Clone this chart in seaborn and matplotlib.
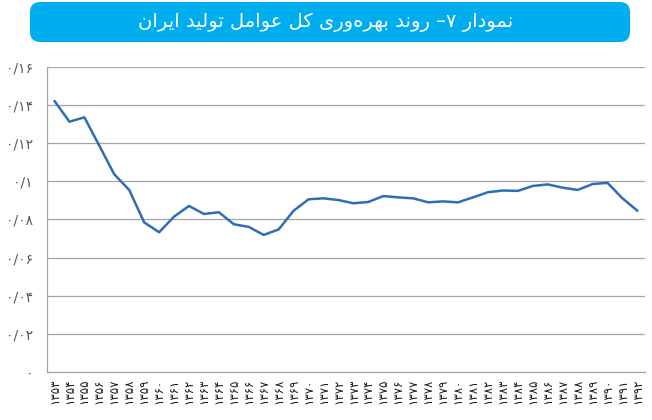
import numpy as np
import pandas as pd
import matplotlib
matplotlib.use("Agg")
import matplotlib.pyplot as plt
from matplotlib.patches import FancyBboxPatch
import seaborn as sns

# data
years = list(range(1353, 1393))
tfp = [0.1422, 0.1313, 0.1336, 0.1187, 0.1037, 0.0955, 0.0785, 0.0733, 0.0815, 0.0871,
       0.0829, 0.0838, 0.0775, 0.0761, 0.0719, 0.0748, 0.0846, 0.0906, 0.0911, 0.0902,
       0.0885, 0.0892, 0.0923, 0.0916, 0.0911, 0.0890, 0.0895, 0.0890, 0.0916, 0.0943,
       0.0952, 0.0950, 0.0976, 0.0984, 0.0967, 0.0955, 0.0986, 0.0992, 0.0911, 0.0846]
y_ticks = [0, 0.02, 0.04, 0.06, 0.08, 0.10, 0.12, 0.14, 0.16]
title = "نمودار ۷– روند بهره\u200cوری کل عوامل تولید ایران"

FA_DIGITS = str.maketrans("0123456789.", "۰۱۲۳۴۵۶۷۸۹/")

# (isolated, final, initial, medial)
FORMS = {
    "ا": ("\uFE8D", "\uFE8E", None, None),
    "د": ("\uFEA9", "\uFEAA", None, None),
    "ر": ("\uFEAD", "\uFEAE", None, None),
    "و": ("\uFEED", "\uFEEE", None, None),
    "ب": ("\uFE8F", "\uFE90", "\uFE91", "\uFE92"),
    "ت": ("\uFE95", "\uFE96", "\uFE97", "\uFE98"),
    "ع": ("\uFEC9", "\uFECA", "\uFECB", "\uFECC"),
    "ل": ("\uFEDD", "\uFEDE", "\uFEDF", "\uFEE0"),
    "م": ("\uFEE1", "\uFEE2", "\uFEE3", "\uFEE4"),
    "ن": ("\uFEE5", "\uFEE6", "\uFEE7", "\uFEE8"),
    "ه": ("\uFEE9", "\uFEEA", "\uFEEB", "\uFEEC"),
    "ی": ("\uFBFC", "\uFBFD", "\uFBFE", "\uFBFF"),
    "ک": ("\uFB8E", "\uFB8F", "\uFB90", "\uFB91"),
}


def shape_rtl(text):
    # crude arabic shaping + reversal, matplotlib has no bidi support
    out = []
    for i, c in enumerate(text):
        if c not in FORMS:
            if c != "\u200c":
                out.append(c)
            continue
        prev = text[i - 1] if i > 0 else None
        nxt = text[i + 1] if i + 1 < len(text) else None
        iso, fin, ini, med = FORMS[c]
        jp = prev in FORMS and FORMS[prev][2] is not None
        jn = nxt in FORMS and ini is not None
        if jp and jn:
            out.append(med)
        elif jp:
            out.append(fin)
        elif jn:
            out.append(ini)
        else:
            out.append(iso)
    return "".join(reversed(out))


def fa(v):
    return f"{v:g}".translate(FA_DIGITS)


sns.set_style("white")
plt.rcParams["font.family"] = ["DejaVu Sans"]

df = pd.DataFrame({"pos": np.arange(len(years)), "tfp": tfp})

fig = plt.figure(figsize=(6.52, 4.20), dpi=100)
ax = fig.add_axes([0.0721, 0.1143, 0.917, 0.7262])

sns.lineplot(data=df, x="pos", y="tfp", ax=ax, color="#2F6DB5", linewidth=1.8)

ax.set_xlim(-0.5, len(years) - 0.5)
ax.set_ylim(0, 0.16)
ax.set_yticks(y_ticks)
ax.set_yticklabels([fa(v) for v in y_ticks], color="#595959", fontsize=10)
ax.set_xticks(np.arange(len(years)))
ax.set_xticklabels([str(y).translate(FA_DIGITS) for y in years], rotation=90,
                   fontsize=8.5, color="#1a1a1a")
ax.set_xticks(np.arange(len(years) + 1) - 0.5, minor=True)
ax.tick_params(axis="x", which="major", length=0, pad=5)
ax.tick_params(axis="x", which="minor", length=4, color="#A6A6A6", width=0.8)
ax.tick_params(axis="y", length=4, color="#A6A6A6", width=0.8, pad=6)
ax.yaxis.grid(True, color="#A6A6A6", linewidth=0.9)
ax.set_axisbelow(True)
ax.set_xlabel("")
ax.set_ylabel("")
for side in ["top", "right"]:
    ax.spines[side].set_visible(False)
for side in ["left", "bottom"]:
    ax.spines[side].set_color("#A6A6A6")
    ax.spines[side].set_linewidth(0.9)

box = FancyBboxPatch((0.38, 3.86), 5.84, 0.24,
                     boxstyle="round,pad=0.08,rounding_size=0.1",
                     transform=fig.dpi_scale_trans, facecolor="#00AEEF",
                     edgecolor="none")
fig.patches.append(box)
fig.text(0.500, 0.946, shape_rtl(title), color="white", fontsize=14,
         ha="center", va="center")

fig.savefig("out.png", dpi=100)
